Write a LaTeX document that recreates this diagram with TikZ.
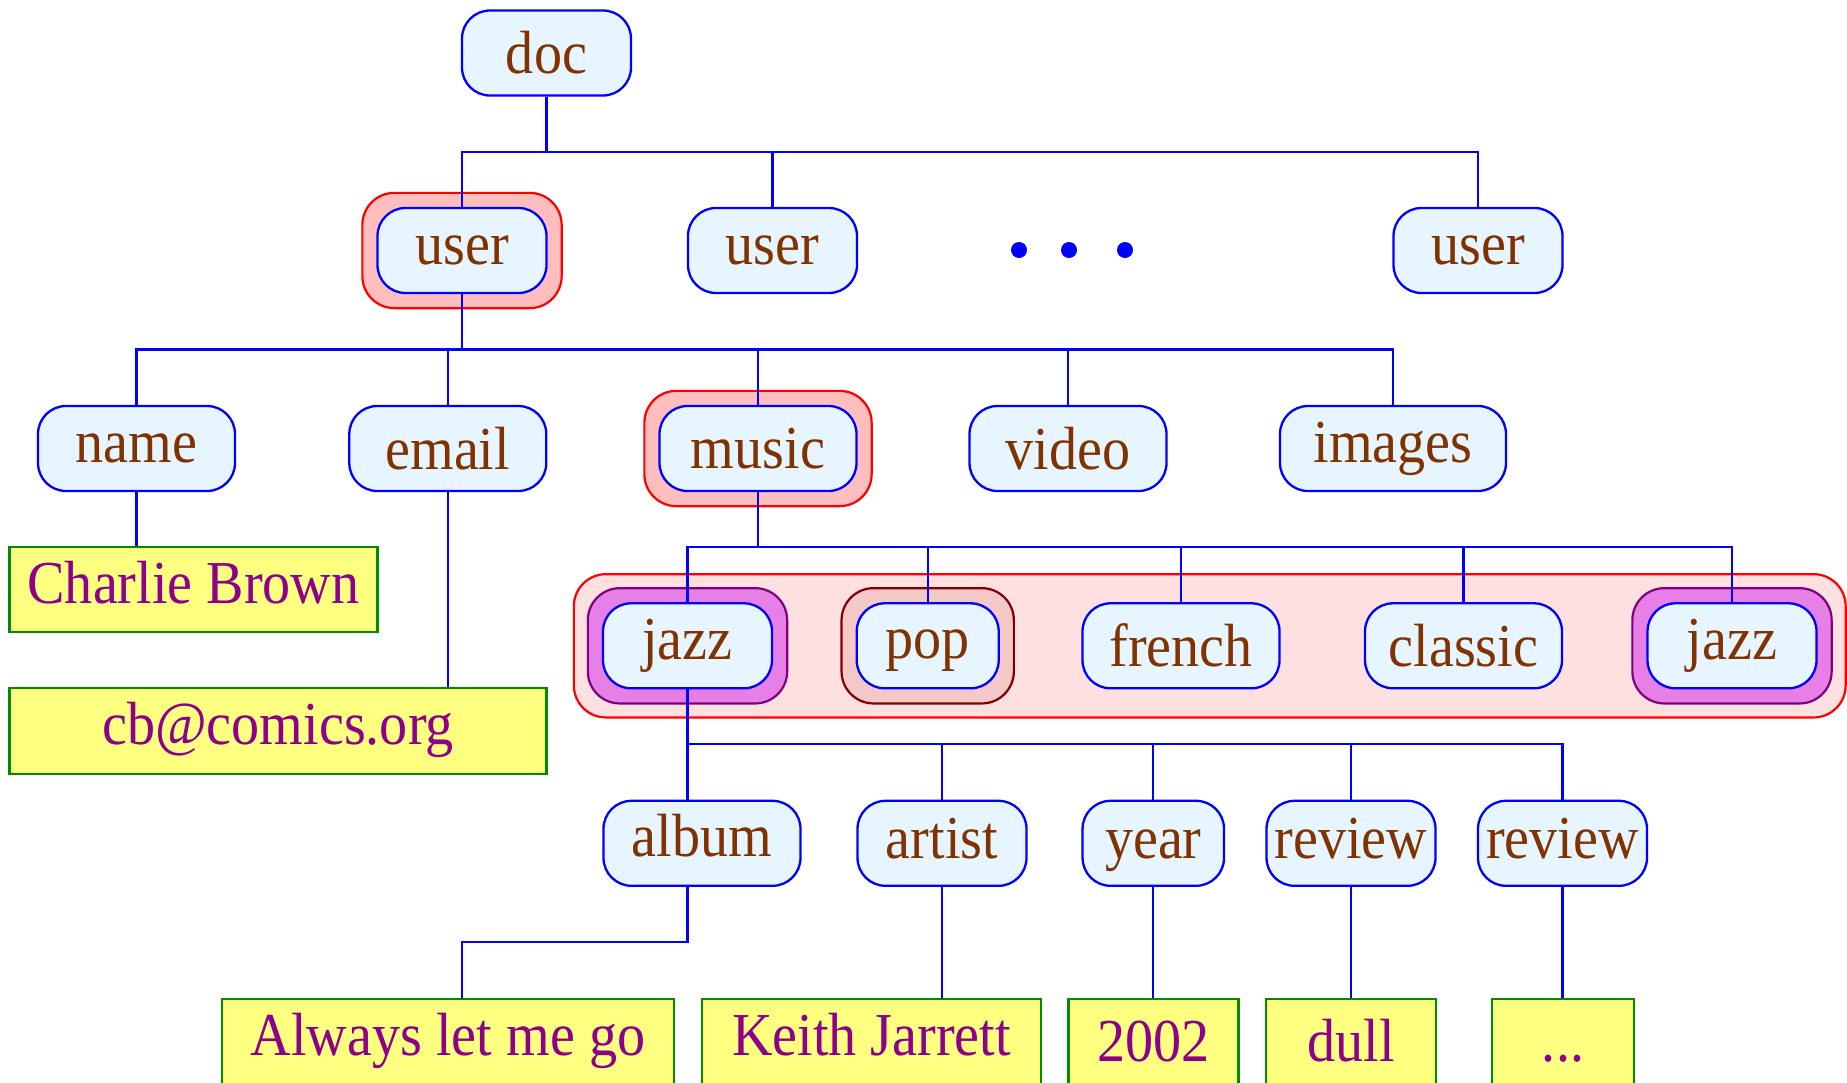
\documentclass[tikz,border=0pt]{standalone}
\usepackage{fontspec}
\setmainfont{Liberation Serif}[FakeStretch=0.92]
\usetikzlibrary{fit,backgrounds}

\definecolor{tagblue}{RGB}{0,0,255}
\definecolor{tagfill}{RGB}{230,245,255}
\definecolor{tagtext}{RGB}{128,51,0}
\definecolor{leafline}{RGB}{0,140,0}
\definecolor{leaffill}{RGB}{255,255,128}
\definecolor{leaftext}{RGB}{140,0,140}
\definecolor{hlfill}{RGB}{255,190,190}
\definecolor{grpfill}{RGB}{255,224,224}
\definecolor{jzfill}{RGB}{230,128,230}
\definecolor{jzline}{RGB}{128,0,128}
\definecolor{popfill}{RGB}{245,200,200}
\definecolor{popline}{RGB}{128,0,0}

\tikzset{
  txt/.style={font=\fontsize{30.5pt}{36.6pt}\selectfont, inner sep=0pt},
  tag/.style={txt, draw=tagblue, fill=tagfill, text=tagtext, line width=1.15pt,
    rounded corners=14pt, minimum height=42.5pt},
  lift/.style={text height=#1, text depth=0pt},
  leaf/.style={txt, draw=leafline, fill=leaffill, text=leaftext, line width=1.1pt,
    minimum height=42.75pt, text height=22pt, text depth=8.1pt},
  leaflow/.style={leaf, text depth=2.1pt},
  link/.style={draw=tagblue, line width=1.1pt},
  dot/.style={circle, fill=tagblue, inner sep=0pt, minimum size=8pt},
  hl/.style={draw=red, fill=hlfill, line width=1.1pt, rounded corners=16pt, inner sep=7pt},
  hljazz/.style={hl, draw=jzline, fill=jzfill},
  hlpop/.style={hl, draw=popline, fill=popfill},
  grp/.style={hl, fill=grpfill, inner sep=14pt},
}

\begin{document}
\begin{tikzpicture}[x=0.5pt, y=-0.5pt]
\useasboundingbox (0,0) rectangle (1847,1082);

% tree levels
\node[tag, minimum width=84.5pt] (doc) at (546.5,53) {doc};

\node[tag, minimum width=84.5pt] (u1) at (462,250.5) {user};
\node[tag, minimum width=84.5pt] (u2) at (772.5,250.5) {user};
\node[dot] (d1) at (1019,250) {};
\node[dot] (d2) at (1069,250) {};
\node[dot] (d3) at (1125,250) {};
\node[tag, minimum width=84.5pt] (u3) at (1478,250.5) {user};

\node[tag, minimum width=98.5pt] (name) at (136.5,448.5) {name};
\node[tag, minimum width=98.5pt] (email) at (447.8,448.5) {email};
\node[tag, minimum width=98.5pt] (music) at (758,448.5) {music};
\node[tag, minimum width=98.5pt] (video) at (1068,448.5) {video};
\node[tag, minimum width=113pt] (images) at (1393,448.5) {images};

\node[leaf, minimum width=184pt] (charlie) at (193.5,589.5) {Charlie Brown};
\node[leaf, minimum width=268.5pt] (mail) at (278,731) {cb@comics.org};

\node[tag, minimum width=84.5pt] (j1) at (687.5,645.8) {jazz};
\node[tag, lift=12.5pt, minimum width=71pt] (pop) at (927.7,645.8) {pop};
\node[tag, minimum width=98.5pt] (french) at (1181,645.8) {french};
\node[tag, minimum width=98.5pt] (classic) at (1463.5,645.8) {classic};
\node[tag, minimum width=84.5pt] (j2) at (1732,645.8) {jazz};

\node[tag, lift=12.7pt, minimum width=98.5pt] (album) at (702,843.3) {album};
\node[tag, lift=15pt, minimum width=84.5pt] (artist) at (942,843.3) {artist};
\node[tag, lift=15pt, minimum width=70.75pt] (year) at (1153.3,843.3) {year};
\node[tag, lift=15pt, minimum width=84.5pt] (rev1) at (1351,843.3) {review};
\node[tag, lift=15pt, minimum width=84.5pt] (rev2) at (1562.5,843.3) {review};

\node[leaf, minimum width=226pt] (always) at (448,1041.75) {Always let me go};
\node[leaf, minimum width=169.5pt] (keith) at (871.5,1041.75) {Keith Jarrett};
\node[leaflow, minimum width=85pt] (y2002) at (1153.5,1041.75) {2002};
\node[leaflow, minimum width=85pt] (dull) at (1351,1041.75) {dull};
\node[leaflow, minimum width=71pt] (more) at (1563,1041.75) {...};

% highlighted parts of the path
\begin{scope}[on background layer]
  \node[grp, fit=(j1)(j2)] (sel) {};
  \node[hl, fit=(u1)] (u1h) {};
  \node[hl, fit=(music)] (musich) {};
  \node[hljazz, fit=(j1)] (j1h) {};
  \node[hlpop, fit=(pop)] (poph) {};
  \node[hljazz, fit=(j2)] (j2h) {};
\end{scope}

% connectors
\coordinate (r1) at (0,152);
\coordinate (r2) at (0,349.5);
\coordinate (r3) at (0,546.7);
\coordinate (r4) at (0,744.3);
\coordinate (r5) at (0,942.3);

\draw[link] (doc.south) -- (doc.south |- r1);
\draw[link] (u1.north) |- (r1 -| u3.north) -- (u3.north);
\draw[link] (u2.north) -- (u2.north |- r1);

\draw[link] (u1.south) -- (u1.south |- r2);
\draw[link] (name.north) |- (r2 -| images.north) -- (images.north);
\foreach \n in {email,music,video}
  \draw[link] (\n.north) -- (\n.north |- r2);

\draw[link] (name.south) -- (name.south |- charlie.north);
\draw[link] (email.south) -- (email.south |- mail.north);

\draw[link] (music.south) -- (music.south |- r3);
\draw[link] (j1.north) |- (r3 -| j2.north) -- (j2.north);
\foreach \n in {pop,french,classic}
  \draw[link] (\n.north) -- (\n.north |- r3);

\draw[link] (j1.south) -- (j1.south |- r4);
\draw[link] (album.north -| j1.south) |- (r4 -| rev2.north) -- (rev2.north);
\foreach \n in {artist,year,rev1}
  \draw[link] (\n.north) -- (\n.north |- r4);

\coordinate (al) at ([xshift=7pt]always.north);
\draw[link] (album.south -| j1.south) |- (al |- r5) -- (al);
\foreach \a/\b in {artist/keith,year/y2002,rev1/dull,rev2/more}
  \draw[link] (\a.south) -- (\a.south |- \b.north);
\end{tikzpicture}
\end{document}
